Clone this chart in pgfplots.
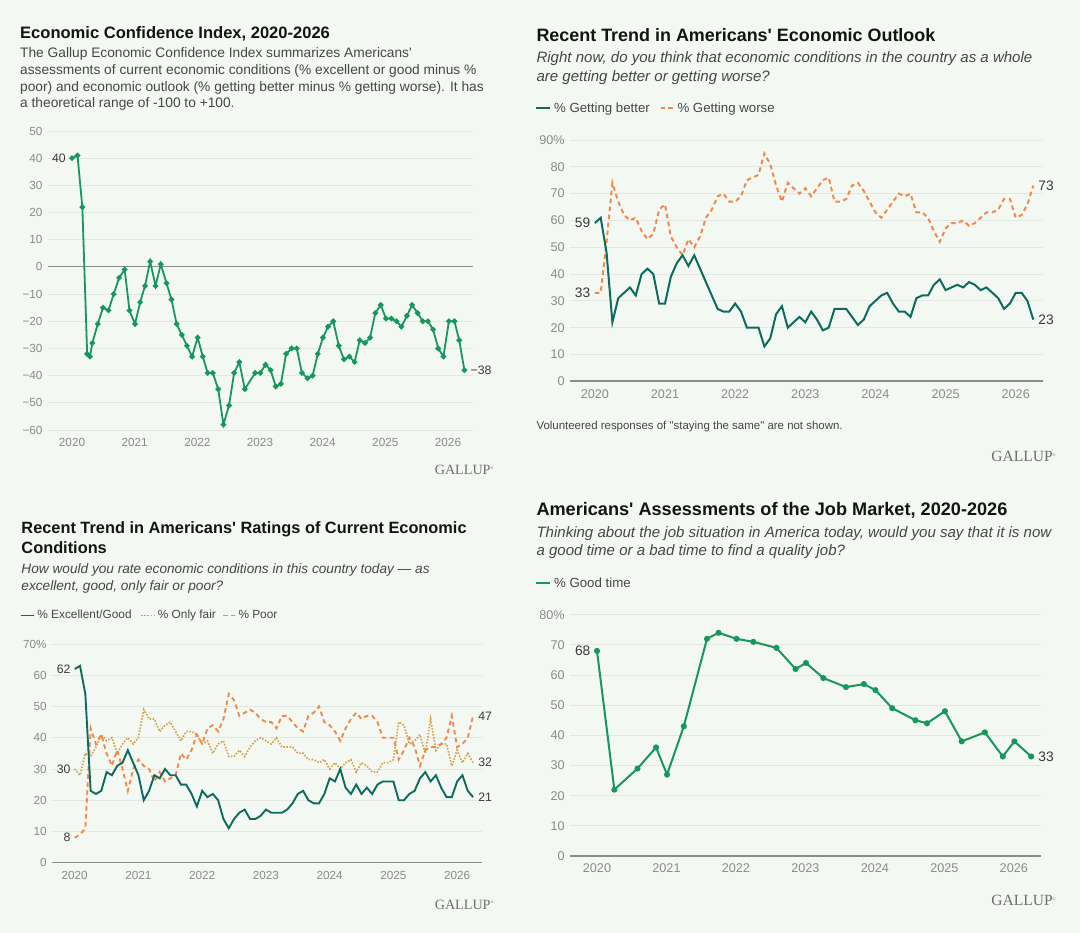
\documentclass[border=0pt]{standalone}
\usepackage{fontspec}
\setmainfont{Liberation Sans}[Ligatures=TeXOff]
\newfontfamily\serifgal{Liberation Serif}[Ligatures=TeXOff]
\usepackage{pgfplots}
\pgfplotsset{compat=1.18}
\definecolor{bg}{HTML}{F4F8F3}
\definecolor{gridc}{HTML}{E3E7E2}
\definecolor{ticklab}{HTML}{8A8A8A}
\definecolor{axc}{HTML}{8C8C8C}
\definecolor{gline}{HTML}{17965E}
\definecolor{tealc}{HTML}{0D6B5E}
\definecolor{orng}{HTML}{EF8A4C}
\definecolor{goldc}{HTML}{CFA244}
\definecolor{txt}{HTML}{464646}
\definecolor{ttl}{HTML}{141414}
\definecolor{lab}{HTML}{3A3A3A}
\definecolor{galc}{HTML}{6E6E6E}
\newcommand{\fs}[1]{\fontsize{#1}{#1}\selectfont}
\newcommand{\reg}{\raisebox{5.5bp}{\fs{4}®}}
\pgfplotsset{
  gal/.style={scale only axis, anchor=south west, axis line style={draw=none},
    major tick length=0pt, ymajorgrids, grid style={color=gridc, line width=0.9bp},
    clip=false, xtick={0,12,24,36,48,60,72},
    xticklabels={2020,2021,2022,2023,2024,2025,2026},
    xticklabel style={anchor=center, yshift=-12.5bp, inner sep=0pt, text=ticklab},
    yticklabel style={anchor=east, inner sep=0pt, xshift=-5.5bp, text=ticklab}},
  small/.style={ticklabel style={font=\fs{11.8}}},
  big/.style={ticklabel style={font=\fs{12.7}}},
}
\begin{document}
\begin{tikzpicture}[x=1bp,y=1bp]
\fill[bg] (0,0) rectangle (1080,933);
\path[use as bounding box] (0,0) rectangle (1080,933);

% ---------- Panel 1 text
\node[anchor=base west, inner sep=0, font=\bfseries\fs{16.6}, text=ttl] at (20,894.7) {Economic Confidence Index, 2020-2026};
\node[anchor=base west, inner sep=0, font=\fs{13.8}, text=txt] at (20,875.7) {The Gallup Economic Confidence Index summarizes Americans'};
\node[anchor=base west, inner sep=0, font=\fs{13.8}, text=txt] at (20,858.3) {assessments of current economic conditions (\% excellent or good minus \%};
\node[anchor=base west, inner sep=0, font=\fs{13.8}, text=txt] at (20,841.7) {poor) and economic outlook (\% getting better minus \% getting worse). It has};
\node[anchor=base west, inner sep=0, font=\fs{13.8}, text=txt] at (20,825) {a theoretical range of -100 to +100.};
\node[anchor=base west, inner sep=0, font=\serifgal\fs{14.2}, text=galc] at (434.6,458) {GALLUP\reg};

\begin{axis}[gal, small, at={(48.2bp,503bp)}, width=424.3bp, height=299bp,
  xmin=-4.56, xmax=76.7, ymin=-60, ymax=50,
  ytick={-60,-50,-40,-30,-20,-10,0,10,20,30,40,50},
  yticklabels={−60,−50,−40,−30,−20,−10,0,10,20,30,40,50}]
\draw[axc, line width=1.2bp] (axis cs:-4.56,0) -- (axis cs:76.7,0);
\addplot[gline, line width=1.8bp, mark=*, mark size=1.8bp, mark options={fill=gline, draw=gline}] coordinates {
(0,40) (1.05,41) (1.98,22) (2.9,-32) (3.43,-33) (3.89,-28) (4.94,-21) (5.93,-15) (6.99,-16) (7.98,-10) (9.03,-4) (10.09,-1) (11,-16) (12.06,-21) (13.05,-13) (13.98,-7) (14.96,2) (16,-7) (17,1) (18.1,-6) (19.05,-12) (20.04,-21) (21.03,-25) (22,-29) (23,-33) (24.06,-26) (25.05,-33) (25.97,-39) (26.96,-39) (28,-45) (29,-58) (30.06,-51) (31.05,-39) (32.04,-35) (33.09,-45) (35.07,-39) (36.06,-39) (37.05,-36) (38.04,-38) (39.03,-44) (40.01,-43) (41,-32) (42.06,-30) (43.05,-30) (44.03,-39) (45.09,-41) (46.08,-40) (47.07,-32) (48.06,-26) (49.04,-22) (50.03,-20) (51.09,-29) (52.08,-34) (53.13,-33) (54.12,-35) (55.1,-27) (56.1,-28) (57.09,-26) (58.08,-17) (59.13,-14) (60.12,-19) (61.17,-19) (62.16,-20) (63.08,-22) (64.14,-18) (65.13,-14) (66.18,-17) (67.17,-20) (68.16,-20) (69.15,-23) (70.14,-30) (71.13,-33) (72.18,-20) (73.24,-20) (74.16,-27) (75.15,-38)};
\node[anchor=east, inner sep=0, font=\fs{12.3}, text=lab, xshift=-6bp] at (axis cs:0,40) {40};
\node[anchor=west, inner sep=0, font=\fs{12.3}, text=lab, xshift=6bp] at (axis cs:75.15,-38) {−38};
\end{axis}

% ---------- Panel 2 text
\node[anchor=base west, inner sep=0, font=\bfseries\fs{18}, text=ttl] at (536.3,891.3) {Recent Trend in Americans' Economic Outlook};
\node[anchor=base west, inner sep=0, font=\itshape\fs{15.1}, text=txt] at (536.3,870) {Right now, do you think that economic conditions in the country as a whole};
\node[anchor=base west, inner sep=0, font=\itshape\fs{15.1}, text=txt] at (536.3,851.3) {are getting better or getting worse?};
\draw[tealc, line width=2bp] (536.3,824.5) -- (550.3,824.5);
\node[anchor=base west, inner sep=0, font=\fs{13.3}, text=txt] at (553.9,820.3) {\% Getting better};
\draw[orng, line width=2bp, dash pattern=on 4.5bp off 3bp] (660.5,824.5) -- (674.5,824.5);
\node[anchor=base west, inner sep=0, font=\fs{13.3}, text=txt] at (677.3,820.3) {\% Getting worse};
\node[anchor=base west, inner sep=0, font=\fs{11.5}, text=txt] at (536.3,503) {Volunteered responses of "staying the same" are not shown.};
\node[anchor=base west, inner sep=0, font=\serifgal\fs{15.6}, text=galc] at (991.2,471.3) {GALLUP\reg};

\begin{axis}[gal, big, at={(570.3bp,551.7bp)}, width=472.9bp, height=241.3bp,
  xmin=-4.2, xmax=76.7, ymin=0, ymax=90,
  ytick={0,10,20,30,40,50,60,70,80,90},
  yticklabels={0,10,20,30,40,50,60,70,80,90\%}]
\draw[axc, line width=1.6bp] (rel axis cs:0,0) -- (rel axis cs:1,0);
\addplot[orng, line width=2bp, dash pattern=on 4.5bp off 3.5bp] coordinates {
(0,33) (1,33) (2,52) (3,74) (4,67) (5,62) (6,60) (7,61) (8,56) (9,53) (10,55) (11,64) (12,66) (13,54) (14,50) (15,47) (16,53) (17,50) (18,54) (19,61) (20,64) (21,69) (22,70) (23,67) (24,67) (25,69) (26,75) (27,76) (28,77) (29,85) (30,81) (31,73) (32,67) (33,74) (34,72) (35,70) (36,72) (37,69) (38,72) (39,75) (40,76) (41,67) (42,67) (43,68) (44,73) (45,74) (46,71) (47,67) (48,63) (49,61) (50,64) (51,67) (52,70) (53,69) (54,70) (55,63) (56,63) (57,61) (58,56) (59,52) (60,57) (61,59) (62,59) (63,60) (64,58) (65,59) (66,61) (67,63) (68,63) (69,64) (70,68) (71,68) (72,61) (73,62) (74,66) (75,73)};
\addplot[tealc, line width=2bp] coordinates {
(0,59) (1,61) (2,48) (3,22) (4,31) (5,33) (6,35) (7,32) (8,40) (9,42) (10,40) (11,29) (12,29) (13,39) (14,44) (15,47) (16,43) (17,47) (18,42) (19,37) (20,32) (21,27) (22,26) (23,26) (24,29) (25,26) (26,20) (27,20) (28,20) (29,13) (30,16) (31,25) (32,28) (33,20) (34,22) (35,24) (36,22) (37,26) (38,23) (39,19) (40,20) (41,27) (42,27) (43,27) (44,24) (45,21) (46,23) (47,28) (48,30) (49,32) (50,33) (51,29) (52,26) (53,26) (54,24) (55,31) (56,32) (57,32) (58,36) (59,38) (60,34) (61,35) (62,36) (63,35) (64,37) (65,36) (66,34) (67,35) (68,33) (69,31) (70,27) (71,29) (72,33) (73,33) (74,30) (75,23)};
\node[anchor=east, inner sep=0, font=\fs{13.8}, text=lab, xshift=-4.5bp] at (axis cs:0,59) {59};
\node[anchor=east, inner sep=0, font=\fs{13.8}, text=lab, xshift=-4.5bp] at (axis cs:0,33) {33};
\node[anchor=west, inner sep=0, font=\fs{13.8}, text=lab, xshift=5bp] at (axis cs:75,73) {73};
\node[anchor=west, inner sep=0, font=\fs{13.8}, text=lab, xshift=5bp] at (axis cs:75,23) {23};
\end{axis}

% ---------- Panel 3 text
\node[anchor=base west, inner sep=0, font=\bfseries\fs{16.4}, text=ttl] at (21.3,399.7) {Recent Trend in Americans' Ratings of Current Economic};
\node[anchor=base west, inner sep=0, font=\bfseries\fs{16.4}, text=ttl] at (21.3,379) {Conditions};
\node[anchor=base west, inner sep=0, font=\itshape\fs{13.7}, text=txt] at (21.3,359) {How would you rate economic conditions in this country today — as};
\node[anchor=base west, inner sep=0, font=\itshape\fs{13.7}, text=txt] at (21.3,342.3) {excellent, good, only fair or poor?};
\draw[tealc, line width=1.9bp] (21.3,317.5) -- (34.4,317.5);
\node[anchor=base west, inner sep=0, font=\fs{11.9}, text=txt] at (37.2,314) {\% Excellent/Good};
\draw[goldc, line width=1.7bp, dash pattern=on 1.5bp off 1.6bp] (141.2,317.5) -- (155.6,317.5);
\node[anchor=base west, inner sep=0, font=\fs{11.9}, text=txt] at (157.7,314) {\% Only fair};
\draw[orng, line width=1.9bp, dash pattern=on 4.5bp off 3bp] (223.1,317.5) -- (237,317.5);
\node[anchor=base west, inner sep=0, font=\fs{11.9}, text=txt] at (238.3,314) {\% Poor};
\node[anchor=base west, inner sep=0, font=\serifgal\fs{14.2}, text=galc] at (434.6,23.7) {GALLUP\reg};

\begin{axis}[gal, small, at={(52.3bp,70.3bp)}, width=429.8bp, height=218.7bp,
  xmin=-4.22, xmax=76.7, ymin=0, ymax=70,
  ytick={0,10,20,30,40,50,60,70},
  yticklabels={0,10,20,30,40,50,60,70\%}]
\draw[axc, line width=1.6bp] (rel axis cs:0,0) -- (rel axis cs:1,0);
\addplot[goldc, line width=1.7bp, dash pattern=on 1.5bp off 1.6bp] coordinates {
(0,30) (1,28) (2,35) (3,34) (4,37) (5,41) (6,39) (7,40) (8,35) (9,38) (10,40) (11,38) (12,40) (13,49) (14,46) (15,46) (16,42) (17,44) (18,45) (19,42) (20,39) (21,42) (22,42) (23,41) (24,38) (25,39) (26,35) (27,38) (28,39) (29,34) (30,34) (31,36) (32,34) (33,37) (34,39) (35,40) (36,39) (37,38) (38,40) (39,37) (40,37) (41,37) (42,35) (43,35) (44,33) (45,33) (46,32) (47,33) (48,30) (49,32) (50,30) (51,32) (52,33) (53,29) (54,32) (55,31) (56,29) (57,29) (58,32) (59,32) (60,33) (61,45) (62,44) (63,38) (64,39) (65,41) (66,35) (67,46) (68,36) (69,38) (70,38) (71,31) (72,36) (73,32) (74,35) (75,32)};
\addplot[orng, line width=1.9bp, dash pattern=on 4.5bp off 3.5bp] coordinates {
(0,8) (1,9) (2,11) (3,43) (4,38) (5,41) (6,35) (7,31) (8,36) (9,30) (10,23) (11,30) (12,33) (13,31) (14,30) (15,26) (16,29) (17,26) (18,27) (19,28) (20,35) (21,33) (22,36) (23,41) (24,38) (25,43) (26,44) (27,42) (28,46) (29,54) (30,52) (31,47) (32,48) (33,49) (34,48) (35,46) (36,45) (37,45) (38,43) (39,47) (40,47) (41,45) (42,43) (43,42) (44,47) (45,48) (46,50) (47,45) (48,44) (49,42) (50,39) (51,43) (52,46) (53,48) (54,46) (55,47) (56,47) (57,45) (58,40) (59,40) (60,40) (61,33) (62,36) (63,40) (64,37) (65,31) (66,36) (67,37) (68,37) (69,38) (70,40) (71,47) (72,37) (73,38) (74,40) (75,47)};
\addplot[tealc, line width=1.9bp] coordinates {
(0,62) (1,63) (2,54) (3,23) (4,22) (5,23) (6,29) (7,28) (8,31) (9,32) (10,36) (11,32) (12,28) (13,20) (14,23) (15,28) (16,27) (17,30) (18,28) (19,28) (20,25) (21,25) (22,22) (23,18) (24,23) (25,21) (26,22) (27,20) (28,14) (29,11) (30,14) (31,16) (32,17) (33,14) (34,14) (35,15) (36,17) (37,16) (38,16) (39,16) (40,17) (41,19) (42,22) (43,23) (44,20) (45,19) (46,19) (47,22) (48,27) (49,26) (50,30) (51,24) (52,22) (53,25) (54,22) (55,24) (56,22) (57,25) (58,26) (59,26) (60,26) (61,20) (62,20) (63,22) (64,23) (65,27) (66,29) (67,26) (68,28) (69,24) (70,21) (71,21) (72,26) (73,28) (74,23) (75,21)};
\node[anchor=east, inner sep=0, font=\fs{12.3}, text=lab, xshift=-4bp] at (axis cs:0,62) {62};
\node[anchor=east, inner sep=0, font=\fs{12.3}, text=lab, xshift=-4bp] at (axis cs:0,30) {30};
\node[anchor=east, inner sep=0, font=\fs{12.3}, text=lab, xshift=-4bp] at (axis cs:0,8) {8};
\node[anchor=west, inner sep=0, font=\fs{12.3}, text=lab, xshift=5bp] at (axis cs:75,47) {47};
\node[anchor=west, inner sep=0, font=\fs{12.3}, text=lab, xshift=5bp] at (axis cs:75,32) {32};
\node[anchor=west, inner sep=0, font=\fs{12.3}, text=lab, xshift=5bp] at (axis cs:75,21) {21};
\end{axis}

% ---------- Panel 4 text
\node[anchor=base west, inner sep=0, font=\bfseries\fs{18.2}, text=ttl] at (536.3,417) {Americans' Assessments of the Job Market, 2020-2026};
\node[anchor=base west, inner sep=0, font=\itshape\fs{15.1}, text=txt] at (536.3,395.7) {Thinking about the job situation in America today, would you say that it is now};
\node[anchor=base west, inner sep=0, font=\itshape\fs{15.1}, text=txt] at (536.3,377.3) {a good time or a bad time to find a quality job?};
\draw[gline, line width=2bp] (536.3,349.8) -- (550.3,349.8);
\node[anchor=base west, inner sep=0, font=\fs{13.3}, text=txt] at (553.9,345.7) {\% Good time};
\node[anchor=base west, inner sep=0, font=\serifgal\fs{15.6}, text=galc] at (991.2,27) {GALLUP\reg};

\begin{axis}[gal, big, at={(570.3bp,77bp)}, width=470.7bp, height=241.3bp,
  xmin=-4.61, xmax=76.7, ymin=0, ymax=80,
  ytick={0,10,20,30,40,50,60,70,80},
  yticklabels={0,10,20,30,40,50,60,70,80\%}]
\draw[axc, line width=1.6bp] (rel axis cs:0,0) -- (rel axis cs:1,0);
\addplot[gline, line width=2bp, mark=*, mark size=2bp, mark options={fill=gline, draw=gline}] coordinates {
(0,68) (3,22) (7,29) (10.2,36) (12.1,27) (15,43) (19,72) (21,74) (24.1,72) (27,71) (31,69) (34.3,62) (36.1,64) (39.1,59) (43,56) (46.1,57) (48.1,55) (51,49) (55,45) (57,44) (60.1,48) (63,38) (67,41) (70.1,33) (72.1,38) (75,33)};
\node[anchor=east, inner sep=0, font=\fs{13.8}, text=lab, xshift=-6.5bp] at (axis cs:0,68) {68};
\node[anchor=west, inner sep=0, font=\fs{13.8}, text=lab, xshift=7bp] at (axis cs:75,33) {33};
\end{axis}
\end{tikzpicture}
\end{document}
